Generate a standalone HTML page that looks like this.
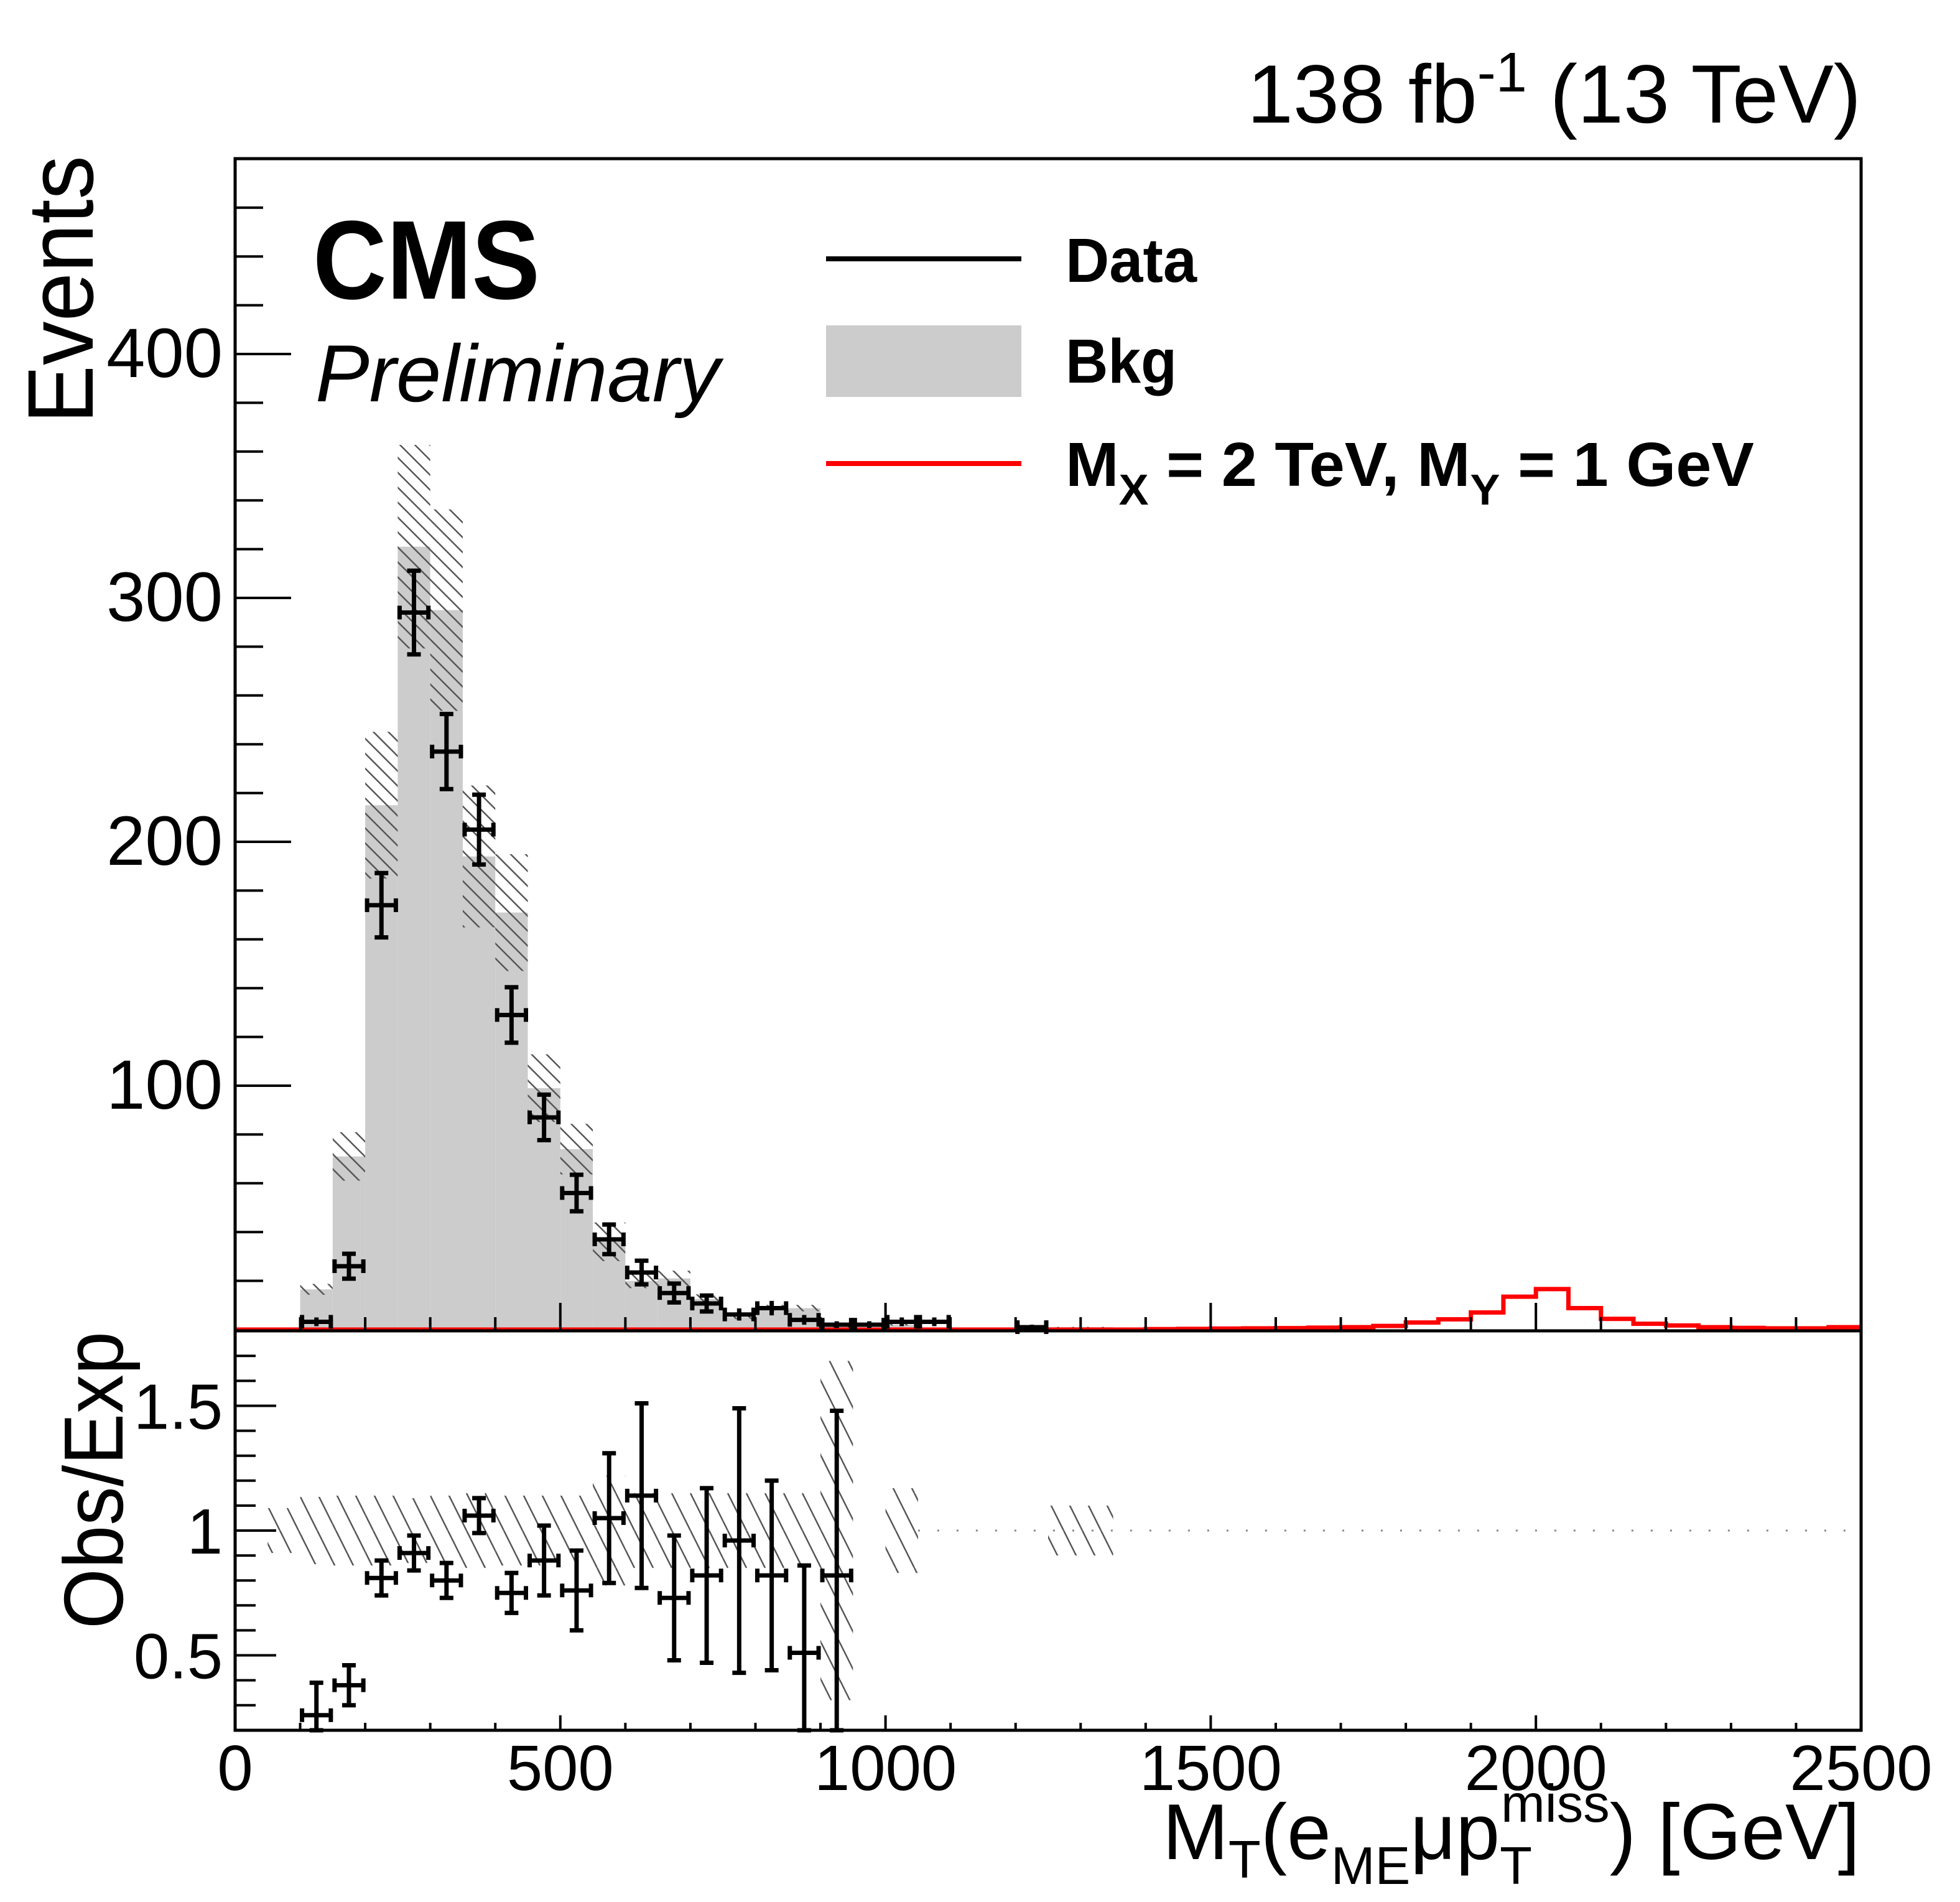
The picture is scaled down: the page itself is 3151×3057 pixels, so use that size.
<!DOCTYPE html>
<html><head><meta charset="utf-8"><title>CMS MT distribution</title>
<style>
html,body{margin:0;padding:0;background:#fff;}
svg{display:block;font-family:"Liberation Sans",Arial,sans-serif;}
</style></head>
<body>
<svg id="chart" width="3151" height="3057" viewBox="0 0 3151 3057" xmlns="http://www.w3.org/2000/svg">
<defs>
<pattern id="hatch" patternUnits="userSpaceOnUse" width="24" height="24">
<line x1="0" y1="0" x2="24" y2="24" stroke="#555" stroke-width="2.5"/>
<line x1="-12" y1="12" x2="12" y2="36" stroke="#555" stroke-width="2.5"/>
<line x1="12" y1="-12" x2="36" y2="12" stroke="#555" stroke-width="2.5"/>
</pattern>
<pattern id="hatch2" patternUnits="userSpaceOnUse" width="30" height="60">
<line x1="0" y1="0" x2="30" y2="60" stroke="#555" stroke-width="2.5"/>
<line x1="-30" y1="0" x2="0" y2="60" stroke="#555" stroke-width="2.5"/>
<line x1="30" y1="0" x2="60" y2="60" stroke="#555" stroke-width="2.5"/>
</pattern>
</defs>
<g id="main"></g>
<g id="ratio"></g>
<g id="axes"></g>

<text x="2992" y="197" text-anchor="end" font-size="133">138 fb<tspan dy="-50" font-size="90">-1</tspan><tspan dy="50"> (13 TeV)</tspan></text>
<text x="503" y="480" font-size="180" font-weight="bold" textLength="365" lengthAdjust="spacingAndGlyphs">CMS</text>
<text x="507" y="645" font-size="130" font-style="italic" textLength="650" lengthAdjust="spacingAndGlyphs">Preliminary</text>

<g>
<g>
<line x1="1328" y1="416" x2="1642" y2="416" stroke="#000" stroke-width="8"/>
<text x="1713" y="453" font-size="100" font-weight="bold" textLength="211" lengthAdjust="spacingAndGlyphs">Data</text>
</g>
<g>
<rect x="1328" y="523" width="314" height="115" fill="#cccccc"/>
<text x="1713" y="615" font-size="100" font-weight="bold" textLength="179" lengthAdjust="spacingAndGlyphs">Bkg</text>
</g>
<g>
<line x1="1328" y1="745" x2="1642" y2="745" stroke="#ff0000" stroke-width="8"/>
<text x="1713" y="781" font-size="100" font-weight="bold" textLength="1107" lengthAdjust="spacingAndGlyphs">M<tspan dy="30" font-size="70">X</tspan><tspan dy="-30"> = 2 TeV, M</tspan><tspan dy="30" font-size="70">Y</tspan><tspan dy="-30"> = 1 GeV</tspan></text>
</g>
</g>

<text transform="translate(149,681) rotate(-90)" font-size="150" textLength="431" lengthAdjust="spacingAndGlyphs">Events</text>
<text transform="translate(197,2618) rotate(-90)" font-size="135" textLength="478" lengthAdjust="spacingAndGlyphs">Obs/Exp</text>
<text x="2990" y="2988" text-anchor="end" font-size="127">M<tspan dy="30" font-size="85">T</tspan><tspan dy="-30">(e</tspan><tspan dy="40" font-size="85">ME</tspan><tspan dy="-40">μp</tspan><tspan dy="40" font-size="85">T</tspan><tspan dy="-100" dx="-50" font-size="85">miss</tspan><tspan dy="60">) [GeV]</tspan></text>
</svg>
<script>
// ---- data (bins of 50 GeV, keyed by lower edge) ----
var bkgEdges = [100,150,200,250,300,350,400,450,500,550,600,650,700,750,800,850,900,1000,1250,1300];
var bkgValues = [16.5,71,215,321,295,194,171,99,74,36,20,21,12.6,5,8.8,8.8,1,2,1,1];
var bkgRelUnc = [0.135,0.14,0.14,0.13,0.14,0.15,0.14,0.14,0.14,0.22,0.15,0.15,0.15,0.15,0.15,0.15,0.68,0.17,0.1,0.1];
var bandEdges = [50];
var bandValues = [0.09];
var dataCenters = [125,175,225,275,325,375,425,475,525,575,625,675,725,775,825,875,925,975,1025,1075,1225];
var dataValues = [3.2,26,174,294,237,205,129,87,56,37,23.4,15,10.7,6.2,8.8,4,2,2,3.2,3.2,1];
var ratioCenters = [125,175,225,275,325,375,425,475,525,575,625,675,725,775,825,875,925];
var ratioValues = [0.26,0.38,0.81,0.91,0.80,1.06,0.75,0.88,0.76,1.05,1.14,0.73,0.82,0.96,0.82,0.51,0.82];
var ratioErrors = [0.13,0.08,0.07,0.07,0.07,0.07,0.08,0.14,0.16,0.26,0.37,0.25,0.35,0.53,0.38,0.35,0.66];
var sigEdges = [1400,1450,1500,1550,1600,1650,1700,1750,1800,1850,1900,1950,2000,2050,2100,2150,2200,2250,2300,2350,2400,2450];
var sigValues = [0.2,0.3,0.4,0.5,0.6,0.8,1,1.5,2.9,4.2,7,13.5,16.6,8.8,4.4,2.4,1.7,1,0.7,0.5,0.5,1];
var xTicksMajor = [0,500,1000,1500,2000,2500];
var yTicksMain = [100,200,300,400];
var yTicksRatio = [0.5,1,1.5];

// ---- geometry ----
var X0=378, X1=2992, YT=255, YM=2139, YB=2781;
function xs(v){return X0+v*(X1-X0)/2500;}
function ym(v){return Math.max(YT, 2137 - v*3.92);}
function yr(r){return Math.min(YB, Math.max(YM, 2460-(r-1)*401));}
var NS="http://www.w3.org/2000/svg";
function mk(tag,attrs,parent){var e=document.createElementNS(NS,tag);for(var k in attrs)e.setAttribute(k,attrs[k]);parent.appendChild(e);return e;}
var main=document.getElementById('main'), ratio=document.getElementById('ratio'), axes=document.getElementById('axes');

for(var i=0;i<bkgEdges.length;i++){
  var a=xs(bkgEdges[i]), b=xs(bkgEdges[i]+50);
  var r=mk('rect',{x:a,y:ym(bkgValues[i]),width:b-a,height:2137-ym(bkgValues[i]),fill:'#cccccc'},main);
  
  
  var u=bkgValues[i]*bkgRelUnc[i];
  var h=mk('rect',{x:a,y:ym(bkgValues[i]+u),width:b-a,height:ym(bkgValues[i]-u)-ym(bkgValues[i]+u),fill:'url(#hatch)'},main);
  
  
  var rb=mk('rect',{x:a,y:yr(1+bkgRelUnc[i]),width:b-a,height:yr(1-bkgRelUnc[i])-yr(1+bkgRelUnc[i]),fill:'url(#hatch2)'},ratio);
  
  
}
for(var i=0;i<bandEdges.length;i++){
  var a=xs(bandEdges[i]), b=xs(bandEdges[i]+50);
  var rb=mk('rect',{x:a,y:yr(1+bandValues[i]),width:b-a,height:yr(1-bandValues[i])-yr(1+bandValues[i]),fill:'url(#hatch2)'},ratio);
  
  
}
var dl=mk('line',{x1:xs(1050),y1:yr(1),x2:X1,y2:yr(1),stroke:'#888','stroke-width':3,'stroke-dasharray':'3 28'},ratio);



var d='M'+X0+' '+ym(0)+' L'+xs(sigEdges[0])+' '+ym(0);
for(var i=0;i<sigEdges.length;i++){
  d+=' L'+xs(sigEdges[i])+' '+ym(sigValues[i])+' L'+xs(sigEdges[i]+50)+' '+ym(sigValues[i]);
}
var sp=mk('path',{d:d,fill:'none',stroke:'#ff0000','stroke-width':7},main);



function errbar(parent,cx,cy,yl,yh,name){
  var g=mk('g',{stroke:'#000','stroke-width':7,fill:'none'},parent);
  
  
  var xl=xs(cx-25)+3, xh=xs(cx+25)-3, xc=xs(cx);
  mk('line',{x1:xl,y1:cy,x2:xh,y2:cy},g);
  mk('line',{x1:xl,y1:cy-11,x2:xl,y2:cy+11},g);
  mk('line',{x1:xh,y1:cy-11,x2:xh,y2:cy+11},g);
  mk('line',{x1:xc,y1:yl,x2:xc,y2:yh},g);
  if(yl-yh>24){
    mk('line',{x1:xc-11,y1:yl,x2:xc+11,y2:yl},g);
    mk('line',{x1:xc-11,y1:yh,x2:xc+11,y2:yh},g);
  }
}
for(var i=0;i<dataCenters.length;i++){
  var v=dataValues[i], e=Math.sqrt(v);
  errbar(main,dataCenters[i],ym(v),ym(v-e),ym(v+e),'data-point-'+dataCenters[i]);
}
for(var i=0;i<ratioCenters.length;i++){
  var v=ratioValues[i], e=ratioErrors[i];
  errbar(ratio,ratioCenters[i],yr(v),yr(v-e),yr(v+e),'ratio-point-'+ratioCenters[i]);
}

var f1=mk('rect',{x:X0,y:YT,width:X1-X0,height:YM-YT,fill:'none',stroke:'#000','stroke-width':5},axes);


var f2=mk('rect',{x:X0,y:YM,width:X1-X0,height:YB-YM,fill:'none',stroke:'#000','stroke-width':5},axes);



for(var v=0;v<=2500;v+=100){
  var major=(v%500===0);
  var x=xs(v);
  mk('line',{x1:x,y1:YM,x2:x,y2:YM-(major?45:22),stroke:'#000','stroke-width':4},axes);
  mk('line',{x1:x,y1:YB,x2:x,y2:YB-(major?24:12),stroke:'#000','stroke-width':4},axes);
}
for(var i=0;i<xTicksMajor.length;i++){
  var t=mk('text',{x:xs(xTicksMajor[i]),y:2877,'text-anchor':'middle','font-size':103},axes);
  
  
  t.textContent=xTicksMajor[i];
}
for(var v=20;v<=480;v+=20){
  var y=ym(v); if(y<=YT+2) continue;
  var major=(v%100===0);
  mk('line',{x1:X0,y1:y,x2:X0+(major?90:45),y2:y,stroke:'#000','stroke-width':4},axes);
}
for(var i=0;i<yTicksMain.length;i++){
  var t=mk('text',{x:358,y:ym(yTicksMain[i])+37,'text-anchor':'end','font-size':112},axes);
  
  
  t.textContent=yTicksMain[i];
}
for(var k=3;k<=17;k++){
  var r=k/10, y=2460-(r-1)*401;
  var major=(k%5===0);
  mk('line',{x1:X0,y1:y,x2:X0+(major?66:33),y2:y,stroke:'#000','stroke-width':4},axes);
}
for(var i=0;i<yTicksRatio.length;i++){
  var t=mk('text',{x:358,y:2460-(yTicksRatio[i]-1)*401+37,'text-anchor':'end','font-size':103},axes);
  
  
  t.textContent=yTicksRatio[i];
}
</script>
</body></html>
